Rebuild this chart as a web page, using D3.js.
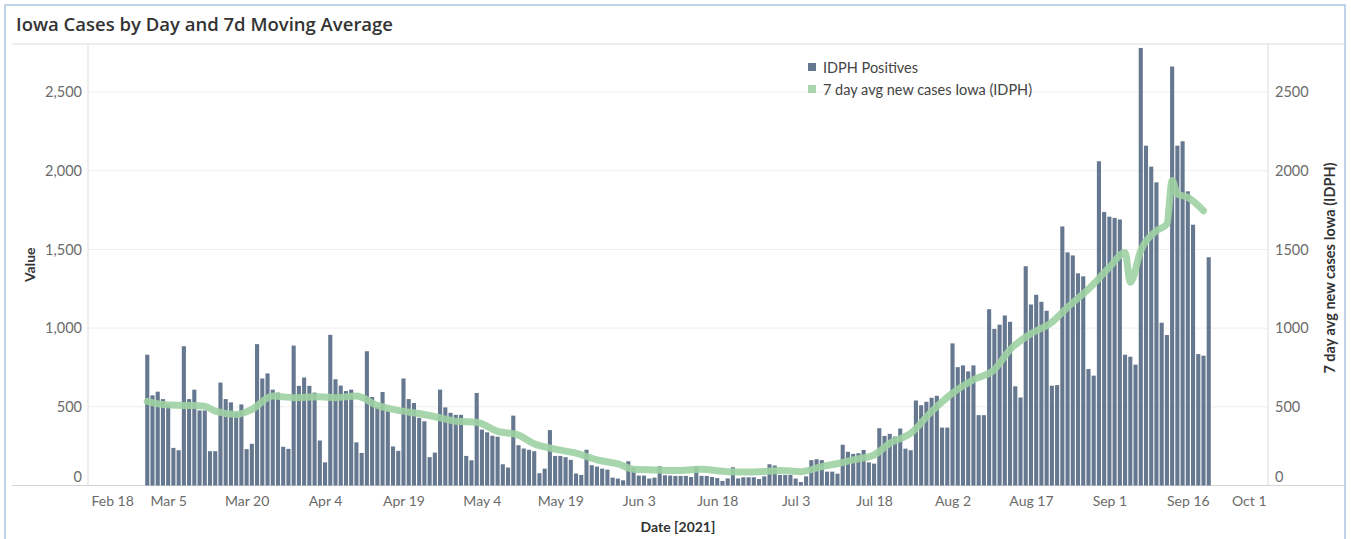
<!DOCTYPE html>
<html>
<head>
<meta charset="utf-8">
<script src="https://cdnjs.cloudflare.com/ajax/libs/d3/7.8.5/d3.min.js"></script>
<style>
body { margin: 0; background: #fff; }
text { font-family: Lato, "Open Sans", sans-serif; }
</style>
</head>
<body>
<script>
var width = 1351, height = 539;
var pane_left = 88, pane_right = 1268, pane_top = 44, pane_bottom = 485.5;

// daily IDPH positives, one array per month
var first_day = '2021-03-01';
var mar_cases = [831, 573, 596, 549, 515, 239, 224, 885, 549, 609, 477, 477, 218, 218, 654, 549,
                 528, 462, 515, 231, 265, 898, 680, 712, 609, 590, 246, 233, 889, 633, 686];
var apr_cases = [633, 590, 286, 147, 957, 675, 635, 600, 609, 274, 207, 853, 562, 500, 594, 472,
                 248, 220, 680, 549, 524, 430, 408, 180, 209, 609, 496, 462, 449, 449];
var may_cases = [188, 160, 588, 355, 338, 316, 310, 135, 114, 444, 256, 235, 227, 218, 78, 107,
                 352, 188, 188, 180, 163, 76, 67, 227, 129, 120, 107, 101, 50, 44, 33];
var jun_cases = [154, 114, 63, 63, 44, 50, 122, 65, 63, 61, 61, 61, 54, 122, 61, 61,
                 54, 47, 29, 45, 116, 45, 52, 52, 52, 41, 58, 135, 127, 67];
var jul_cases = [67, 67, 44, 22, 58, 161, 167, 161, 88, 88, 75, 259, 214, 201, 205, 226,
                 147, 139, 364, 315, 328, 311, 362, 234, 224, 540, 510, 532, 557, 570, 368];
var aug_cases = [368, 903, 752, 763, 725, 763, 447, 447, 1120, 995, 1022, 1080, 1040, 630, 559, 1393,
                 1150, 1212, 1167, 1110, 634, 638, 1646, 1481, 1462, 1348, 1329, 740, 698, 2060, 1738];
var sep_cases = [1708, 1700, 1690, 831, 818, 768, 2780, 2159, 2026, 1926, 1034, 956, 2662, 2159, 2187, 1869,
                 1657, 835, 825, 1450];

// 7 day average
var avg_dates = ['2021-03-01', '2021-03-04', '2021-03-08', '2021-03-12', '2021-03-14', '2021-03-18',
                 '2021-03-21', '2021-03-25', '2021-03-29', '2021-04-03', '2021-04-06', '2021-04-10',
                 '2021-04-14', '2021-04-18', '2021-04-22', '2021-04-26', '2021-04-29', '2021-05-03',
                 '2021-05-07', '2021-05-11', '2021-05-14', '2021-05-18', '2021-05-22', '2021-05-26',
                 '2021-05-30', '2021-06-02', '2021-06-06', '2021-06-10', '2021-06-15', '2021-06-20',
                 '2021-06-25', '2021-06-30', '2021-07-04', '2021-07-08', '2021-07-12', '2021-07-14',
                 '2021-07-18', '2021-07-21', '2021-07-25', '2021-07-29', '2021-08-02', '2021-08-06',
                 '2021-08-10', '2021-08-13', '2021-08-17', '2021-08-21', '2021-08-24', '2021-08-28',
                 '2021-09-01', '2021-09-04', '2021-09-05', '2021-09-07', '2021-09-10', '2021-09-12',
                 '2021-09-13', '2021-09-14', '2021-09-16', '2021-09-19'];
var avg_values = [535, 515, 509, 504, 472, 451,
                  483, 568, 558, 564, 558, 568,
                  509, 477, 457, 430, 408, 402,
                  344, 320, 265, 231, 205, 163,
                  137, 103, 99, 95, 103, 88,
                  86, 95, 88, 120, 146, 163,
                  194, 268, 332, 470, 587, 672,
                  736, 863, 965, 1037, 1132, 1248,
                  1386, 1481, 1291, 1492, 1619, 1661,
                  1937, 1852, 1831, 1746];

var x_ticks = ['2021-02-18', '2021-03-05', '2021-03-20', '2021-04-04', '2021-04-19', '2021-05-04',
               '2021-05-19', '2021-06-03', '2021-06-18', '2021-07-03', '2021-07-18', '2021-08-02',
               '2021-08-17', '2021-09-01', '2021-09-16', '2021-10-01'];
var y_ticks = [0, 500, 1000, 1500, 2000, 2500];

var parse = d3.utcParse('%Y-%m-%d');
var bar_color = '#65788f', line_color = '#9fd1a3';

var all_cases = [].concat(mar_cases, apr_cases, may_cases, jun_cases, jul_cases, aug_cases, sep_cases);
var bar_data = all_cases.map(function(v, i) {
	return {date: d3.utcDay.offset(parse(first_day), i), value: v};
});
var avg_data = avg_dates.map(function(d, i) { return {date: parse(d), value: avg_values[i]}; });

function plot_it() {
	var svg = d3.select('body').append('svg').attr('width', width).attr('height', height);

	// outer frame and title
	svg.append('rect').attr('x', 5).attr('y', 5).attr('width', 1340).attr('height', 545)
		.attr('fill', 'none').attr('stroke', '#a9c5e4').attr('stroke-width', 1.5);
	svg.append('text').attr('x', 16).attr('y', 31)
		.style('font-family', '"Open Sans", sans-serif')
		.style('font-size', '18.5px').style('font-weight', 600).attr('fill', '#333')
		.text('Iowa Cases by Day and 7d Moving Average');

	var xScale = d3.scaleUtc()
		.domain([d3.utcHour.offset(parse('2021-02-18'), -8), d3.utcHour.offset(parse('2021-10-01'), 8)])
		.range([pane_left, pane_right]);
	var yScale = d3.scaleLinear().domain([0, 2805]).range([pane_bottom, pane_top]);

	// gridlines
	svg.append('g').attr('class', 'grid').selectAll('line').data(y_ticks.slice(1))
		.enter().append('line')
		.attr('x1', pane_left).attr('x2', pane_right)
		.attr('y1', d => yScale(d)).attr('y2', d => yScale(d))
		.attr('stroke', '#eeeeee');

	// pane borders
	svg.append('line').attr('x1', 12).attr('x2', 1345).attr('y1', pane_top).attr('y2', pane_top).attr('stroke', '#dcdcdc');
	svg.append('line').attr('x1', 12).attr('x2', 1345).attr('y1', pane_bottom).attr('y2', pane_bottom).attr('stroke', '#d4d4d4');
	svg.append('line').attr('x1', pane_left).attr('x2', pane_left).attr('y1', pane_top).attr('y2', pane_bottom).attr('stroke', '#dcdcdc');
	svg.append('line').attr('x1', pane_right).attr('x2', pane_right).attr('y1', pane_top).attr('y2', pane_bottom).attr('stroke', '#dcdcdc');

	// bars
	var bw = 4.1;
	svg.append('g').attr('class', 'bars').selectAll('rect').data(bar_data)
		.enter().append('rect')
		.attr('x', d => xScale(d.date) - bw/2)
		.attr('width', bw)
		.attr('y', d => yScale(d.value))
		.attr('height', d => pane_bottom - yScale(d.value))
		.attr('fill', bar_color);

	// 7 day avg line
	var line = d3.line().x(d => xScale(d.date)).y(d => yScale(d.value)).curve(d3.curveMonotoneX);
	svg.append('path').datum(avg_data)
		.attr('d', line)
		.attr('fill', 'none')
		.attr('stroke', line_color)
		.attr('stroke-width', 7)
		.attr('stroke-linecap', 'round')
		.attr('stroke-linejoin', 'round')
		.attr('opacity', 0.9);

	// left axis
	var yLeft = svg.append('g').attr('transform', 'translate(' + pane_left + ',0)')
		.call(d3.axisLeft(yScale).tickValues(y_ticks).tickFormat(d3.format(',')).tickSize(0).tickPadding(6));
	yLeft.select('.domain').remove();
	yLeft.selectAll('text').style('font-size', '14.5px').attr('fill', '#6b6b6b')
		.attr('dy', d => d == 0 ? '-0.3em' : '0.32em');

	// right axis
	var yRight = svg.append('g').attr('transform', 'translate(' + pane_right + ',0)')
		.call(d3.axisRight(yScale).tickValues(y_ticks).tickFormat(d3.format('d')).tickSize(0).tickPadding(7));
	yRight.select('.domain').remove();
	yRight.selectAll('text').style('font-size', '14.5px').attr('fill', '#6b6b6b')
		.attr('dy', d => d == 0 ? '-0.3em' : '0.32em');

	// x axis
	var xAxis = svg.append('g').attr('transform', 'translate(0,' + pane_bottom + ')')
		.call(d3.axisBottom(xScale).tickValues(x_ticks.map(parse)).tickFormat(d3.utcFormat('%b %-d')).tickSize(0).tickPadding(11));
	xAxis.select('.domain').remove();
	xAxis.selectAll('text').style('font-size', '14px').attr('fill', '#6b6b6b');
	var xt = xAxis.selectAll('.tick text').nodes();
	d3.select(xt[0]).attr('text-anchor', 'start').attr('x', pane_left + 3 - xScale(parse(x_ticks[0])));
	d3.select(xt[xt.length-1]).attr('text-anchor', 'end').attr('x', pane_right - 2 - xScale(parse(x_ticks[x_ticks.length-1])));

	// axis titles
	svg.append('text').attr('transform', 'rotate(-90)')
		.attr('x', -(pane_top + pane_bottom)/2).attr('y', 35)
		.style('text-anchor', 'middle').style('font-size', '14px').style('font-weight', 700).attr('fill', '#333')
		.text('Value');
	svg.append('text').attr('transform', 'rotate(-90)')
		.attr('x', -268).attr('y', 1335)
		.style('text-anchor', 'middle').style('font-size', '14.5px').style('font-weight', 700).attr('fill', '#333')
		.text('7 day avg new cases Iowa (IDPH)');
	svg.append('text').attr('x', 678).attr('y', 532)
		.style('text-anchor', 'middle').style('font-size', '14px').style('font-weight', 700).attr('fill', '#333')
		.text('Date [2021]');

	// legend
	var legend = svg.append('g').attr('class', 'legend').attr('transform', 'translate(808,63)');
	legend.append('rect').attr('width', 8).attr('height', 8).attr('fill', bar_color);
	legend.append('text').attr('x', 15).attr('y', 9.5).style('font-size', '14.5px').attr('fill', '#444').text('IDPH Positives');
	legend.append('rect').attr('y', 22).attr('width', 8).attr('height', 8).attr('fill', '#a9d5ac');
	legend.append('text').attr('x', 15).attr('y', 31.5).style('font-size', '14.5px').attr('fill', '#444').text('7 day avg new cases Iowa (IDPH)');
}

plot_it();
</script>
</body>
</html>
